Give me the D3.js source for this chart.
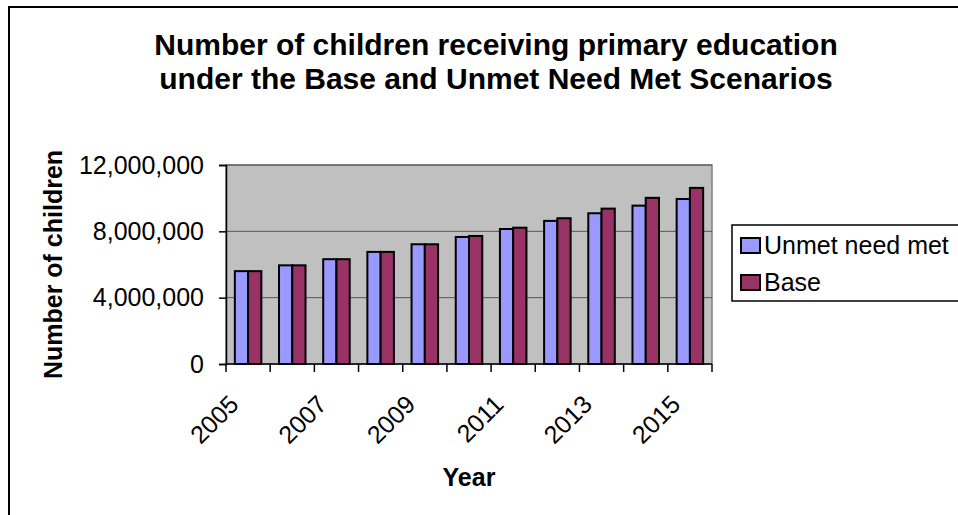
<!DOCTYPE html>
<html>
<head>
<meta charset="utf-8">
<script src="https://cdn.jsdelivr.net/npm/d3@7"></script>
<style>
  html, body { margin: 0; padding: 0; background: #ffffff; }
  svg { display: block; font-family: Arial, "Liberation Sans", sans-serif; }
</style>
</head>
<body>
<svg id="chart" width="958" height="515"></svg>
<script>
// Primary school enrolment projections, 2005-2015
const years = ["2005","2006","2007","2008","2009","2010","2011","2012","2013","2014","2015"];
const unmetNeedMet = [5600000, 5950000, 6320000, 6760000, 7220000, 7660000, 8140000, 8630000, 9090000, 9550000, 9950000];
const base         = [5600000, 5950000, 6320000, 6760000, 7220000, 7720000, 8220000, 8790000, 9370000, 10020000, 10620000];
const seriesNames  = ["Unmet need met", "Base"];
const seriesColors = ["#9999FF", "#993366"];
const yTicks = [0, 4000000, 8000000, 12000000];
const labelledYears = ["2005","2007","2009","2011","2013","2015"];
const titleLines = ["Number of children receiving primary education",
                    "under the Base and Unmet Need Met Scenarios"];

const svg = d3.select("#chart");

// chart frame
svg.append("rect")
  .attr("x", 9).attr("y", 7).attr("width", 1000).attr("height", 600)
  .attr("fill", "#ffffff").attr("stroke", "#000").attr("stroke-width", 2);

const plot = { left: 226, right: 712, top: 165, bottom: 364 };

const x = d3.scaleBand().domain(years).range([plot.left, plot.right]).paddingInner(0.4).paddingOuter(0.2);
const xs = d3.scaleBand().domain(seriesNames).range([0, x.bandwidth()]);
const y = d3.scaleLinear().domain([0, 12000000]).range([plot.bottom, plot.top]);

// plot background
svg.append("rect")
  .attr("x", plot.left).attr("y", plot.top)
  .attr("width", plot.right - plot.left).attr("height", plot.bottom - plot.top)
  .attr("fill", "#C0C0C0").attr("stroke", "#808080").attr("stroke-width", 1.5);

// horizontal gridlines
svg.append("g")
  .selectAll("line")
  .data(yTicks.filter(d => d > 0))
  .join("line")
  .attr("x1", plot.left).attr("x2", plot.right)
  .attr("y1", d => y(d)).attr("y2", d => y(d))
  .attr("stroke", "#555").attr("stroke-width", 1);

// bars
const rows = years.map((yr, i) => ({ year: yr, values: [unmetNeedMet[i], base[i]] }));
svg.append("g")
  .selectAll("g")
  .data(rows)
  .join("g")
  .attr("transform", d => `translate(${x(d.year)},0)`)
  .selectAll("rect")
  .data(d => d.values.map((v, k) => ({ name: seriesNames[k], value: v, color: seriesColors[k] })))
  .join("rect")
  .attr("x", d => xs(d.name))
  .attr("width", xs.bandwidth())
  .attr("y", d => y(d.value))
  .attr("height", d => y(0) - y(d.value))
  .attr("fill", d => d.color)
  .attr("stroke", "#000").attr("stroke-width", 2);

// y axis
const yAxis = svg.append("g")
  .attr("transform", `translate(${plot.left},0)`)
  .call(d3.axisLeft(y).tickValues(yTicks).tickSize(7).tickPadding(15).tickFormat(d3.format(",")));
yAxis.select(".domain").attr("stroke", "#000").attr("stroke-width", 1.5);
yAxis.selectAll(".tick line").attr("stroke", "#000").attr("stroke-width", 1.5);
yAxis.selectAll(".tick text").attr("font-size", 25).attr("fill", "#000")
  .attr("font-family", "Arial, 'Liberation Sans', sans-serif");

// x axis: ticks between categories
const boundaries = years.map(d => x(d) - x.step() * x.paddingInner() / 2).concat([plot.right]);
boundaries[0] = plot.left;
svg.append("line")
  .attr("x1", plot.left).attr("x2", plot.right)
  .attr("y1", plot.bottom).attr("y2", plot.bottom)
  .attr("stroke", "#000").attr("stroke-width", 1.5);
svg.append("g")
  .selectAll("line")
  .data(boundaries)
  .join("line")
  .attr("x1", d => d).attr("x2", d => d)
  .attr("y1", plot.bottom).attr("y2", plot.bottom + 8)
  .attr("stroke", "#000").attr("stroke-width", 1.5);

svg.append("g")
  .selectAll("text")
  .data(labelledYears)
  .join("text")
  .attr("transform", d => `translate(${x(d) + x.bandwidth() / 2 - 8},406) rotate(-45)`)
  .attr("text-anchor", "end")
  .attr("font-size", 25)
  .text(d => d);

// axis titles
svg.append("text")
  .attr("x", (plot.left + plot.right) / 2).attr("y", 486)
  .attr("text-anchor", "middle").attr("font-size", 25).attr("font-weight", "bold")
  .text("Year");

svg.append("text")
  .attr("transform", `translate(62,${(plot.top + plot.bottom) / 2}) rotate(-90)`)
  .attr("text-anchor", "middle").attr("font-size", 25).attr("font-weight", "bold")
  .text("Number of children");

// chart title
svg.append("text")
  .attr("x", 496).attr("y", 55)
  .attr("text-anchor", "middle").attr("font-size", 30).attr("font-weight", "bold")
  .selectAll("tspan")
  .data(titleLines)
  .join("tspan")
  .attr("x", 496)
  .attr("dy", (d, i) => i === 0 ? 0 : 34)
  .text(d => d);

// legend
const legend = svg.append("g");
legend.append("rect")
  .attr("x", 732).attr("y", 225).attr("width", 300).attr("height", 76)
  .attr("fill", "#fff").attr("stroke", "#000").attr("stroke-width", 1.5);
const items = legend.selectAll("g.item")
  .data(seriesNames)
  .join("g")
  .attr("class", "item")
  .attr("transform", (d, i) => `translate(741,${238 + i * 37})`);
items.append("rect")
  .attr("width", 19).attr("height", 15)
  .attr("fill", (d, i) => seriesColors[i])
  .attr("stroke", "#000").attr("stroke-width", 2);
items.append("text")
  .attr("x", 23).attr("y", 16)
  .attr("font-size", 25)
  .text(d => d);
</script>
</body>
</html>
